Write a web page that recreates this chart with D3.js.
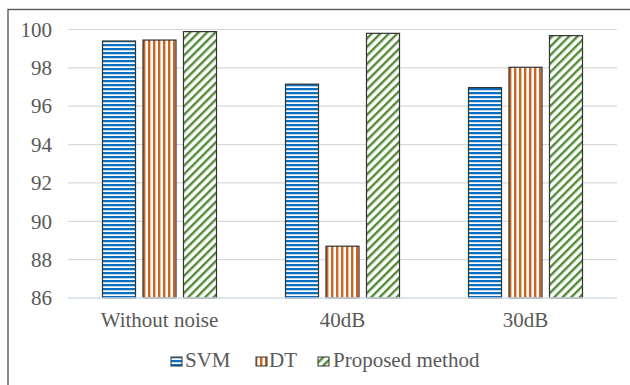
<!DOCTYPE html>
<html><head><meta charset="utf-8">
<script src="https://cdn.jsdelivr.net/npm/d3@7/dist/d3.min.js"></script>
<style>html,body{margin:0;padding:0;background:#fff;}svg{display:block;}</style>
</head><body>
<svg id="c" width="630" height="385"></svg>
<script>
const categories = ["Without noise", "40dB", "30dB"];
const seriesNames = ["SVM", "DT", "Proposed method"];
const svmValues = [99.4, 97.15, 96.97];
const dtValues = [99.45, 88.7, 98.03];
const proposedValues = [99.89, 99.8, 99.68];
const yTicks = [86, 88, 90, 92, 94, 96, 98, 100];

const seriesValues = [svmValues, dtValues, proposedValues];
const svg = d3.select("#c");
const W = 630, H = 385;
const FONT = '"Liberation Serif"';
const FS = "21px";
const m = {left: 68, right: 13, top: 29.5, bottom: 87};
const x0 = d3.scaleBand().domain(categories).range([m.left, W - m.right]).paddingInner(0).paddingOuter(0);
const x1 = d3.scaleBand().domain(seriesNames).range([0, x0.bandwidth()]).paddingInner(0.185).paddingOuter(0.852);
const y = d3.scaleLinear().domain([86, 100]).range([H - m.bottom, m.top]);

const defs = svg.append("defs");
const p1 = defs.append("pattern").attr("id", "pSVM").attr("patternUnits", "userSpaceOnUse").attr("width", 8).attr("height", 4);
p1.append("rect").attr("width", 8).attr("height", 4).attr("fill", "#fff");
p1.append("rect").attr("y", 0).attr("width", 8).attr("height", 2).attr("fill", "#0b6fc2");
p1.append("rect").attr("y", 2).attr("width", 8).attr("height", 0.6).attr("fill", "#8fbde4");
const p2 = defs.append("pattern").attr("id", "pDT").attr("patternUnits", "userSpaceOnUse").attr("width", 5).attr("height", 8);
p2.append("rect").attr("width", 5).attr("height", 8).attr("fill", "#fff");
p2.append("rect").attr("x", 0).attr("width", 2.4).attr("height", 8).attr("fill", "#cf6420");
const p3 = defs.append("pattern").attr("id", "pPM").attr("patternUnits", "userSpaceOnUse").attr("width", 6).attr("height", 6).attr("patternTransform", "rotate(45)");
p3.append("rect").attr("width", 6).attr("height", 6).attr("fill", "#fff");
p3.append("rect").attr("x", 0).attr("width", 2.4).attr("height", 6).attr("fill", "#528a36");
const fills = {"SVM": "url(#pSVM)", "DT": "url(#pDT)", "Proposed method": "url(#pPM)"};

svg.append("rect").attr("x", 8).attr("y", 9.5).attr("width", 700).attr("height", 500)
  .attr("fill", "none").attr("stroke", "#5a5a5a").attr("stroke-width", 1.4);

svg.append("g").selectAll("line").data(yTicks.filter(t => t !== 86)).join("line")
  .attr("x1", m.left).attr("x2", W - m.right)
  .attr("y1", d => y(d)).attr("y2", d => y(d))
  .attr("stroke", "#d9d9d9").attr("stroke-width", 1.2);

const yAxis = d3.axisLeft(y).tickValues(yTicks).tickSize(0).tickPadding(0);
const gy = svg.append("g").attr("transform", `translate(52,0)`).call(yAxis);
gy.select(".domain").remove();
gy.selectAll("text").style("font-family", FONT).style("font-size", FS).attr("fill", "#595959");

const groups = svg.append("g").selectAll("g").data(categories).join("g")
  .attr("transform", d => `translate(${x0(d)},0)`);
groups.selectAll("rect").data((c, i) => seriesNames.map((s, j) => ({s, v: seriesValues[j][i]}))).join("rect")
  .attr("x", d => x1(d.s)).attr("width", x1.bandwidth())
  .attr("y", d => y(d.v)).attr("height", d => y(86) - y(d.v))
  .attr("fill", d => fills[d.s]).attr("stroke", "#333").attr("stroke-width", 1.2);

svg.append("line").attr("x1", m.left).attr("x2", W - m.right).attr("y1", y(86)).attr("y2", y(86))
  .attr("stroke", "#d0dbe8").attr("stroke-width", 1.6);

const xAxis = d3.axisBottom(x0).tickSize(0).tickPadding(0);
const gx = svg.append("g").attr("transform", `translate(0,${y(86)})`).call(xAxis);
gx.select(".domain").remove();
gx.selectAll("text").attr("dy", null).attr("y", 29).style("font-family", FONT).style("font-size", FS).attr("fill", "#595959");

const swatchX = [171, 256, 318];
const textX = [185, 269, 333];
const lg = svg.append("g");
seriesNames.forEach((s, i) => {
  lg.append("rect").attr("x", swatchX[i]).attr("y", 357).attr("width", 11).attr("height", 9)
    .attr("fill", fills[s]).attr("stroke", "#333").attr("stroke-width", 1);
  lg.append("text").attr("x", textX[i]).attr("y", 366.5).text(s)
    .style("font-family", FONT).style("font-size", FS).attr("fill", "#595959");
});
</script>
</body></html>
